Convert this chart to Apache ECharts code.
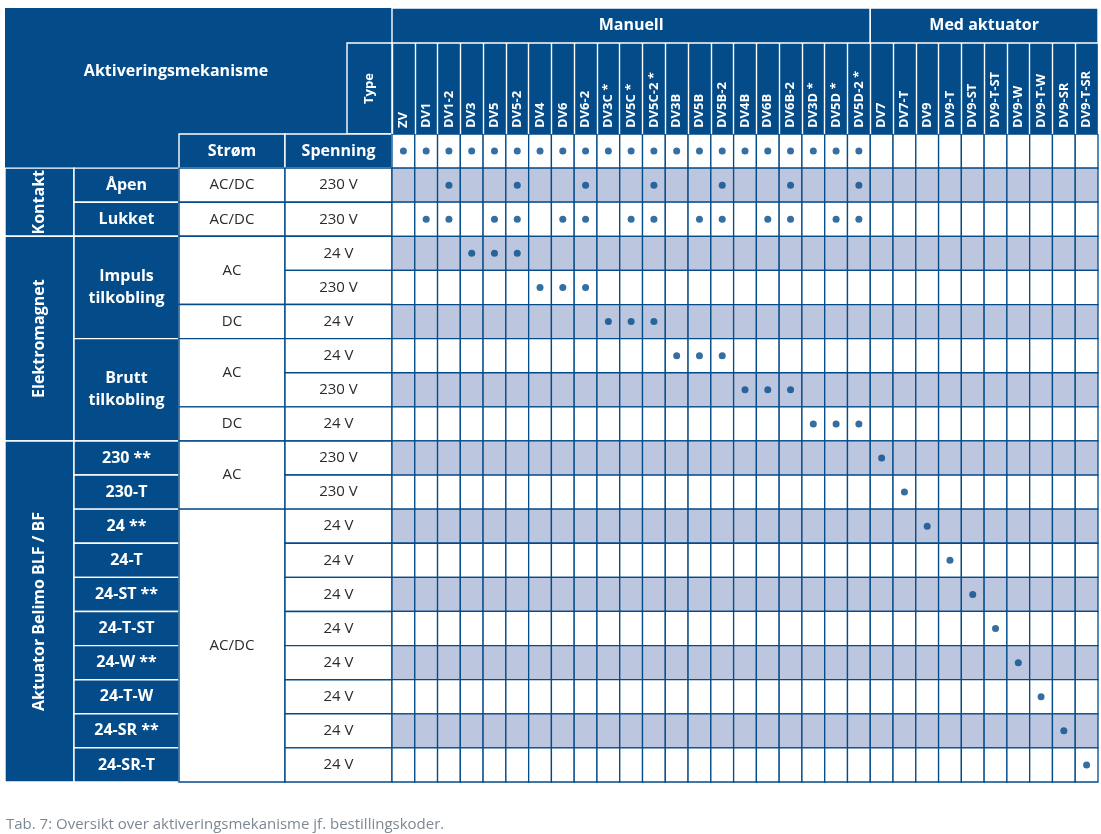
<!DOCTYPE html>
<html><head><meta charset="utf-8">
<script src="https://cdn.jsdelivr.net/npm/echarts@6/dist/echarts.min.js"></script>
<style>html,body{margin:0;padding:0;background:#fff}#c{width:1101px;height:834px}</style>
</head><body><div id="c"></div>
<script>
// ---------- data ----------
const codes = ['ZV','DV1','DV1-2','DV3','DV5','DV5-2','DV4','DV6','DV6-2','DV3C *','DV5C *','DV5C-2 *','DV3B','DV5B','DV5B-2','DV4B','DV6B','DV6B-2','DV3D *','DV5D *','DV5D-2 *','DV7','DV7-T','DV9','DV9-T','DV9-ST','DV9-T-ST','DV9-W','DV9-T-W','DV9-SR','DV9-T-SR'];
const groupNames = ['Manuell', 'Med aktuator'];
const groupSizes = [21, 10];
const mechanisms = ['Kontakt', 'Elektromagnet', 'Aktuator Belimo BLF / BF'];
const mechanismSpans = [2, 6, 10];
const variants = ['Åpen','Lukket','Impuls\ntilkobling','Brutt\ntilkobling','230 **','230-T','24 **','24-T','24-ST **','24-T-ST','24-W **','24-T-W','24-SR **','24-SR-T'];
const variantSpans = [1,1,3,3,1,1,1,1,1,1,1,1,1,1];
const currents = ['AC/DC','AC/DC','AC','DC','AC','DC','AC','AC/DC'];
const currentSpans = [1,1,2,1,2,1,2,8];
const voltages = ['230 V','230 V','24 V','230 V','24 V','24 V','230 V','24 V','230 V','230 V','24 V','24 V','24 V','24 V','24 V','24 V','24 V','24 V'];
// dots in the "Type" header row (code indices)
const typeRowDots = [0,1,2,3,4,5,6,7,8,9,10,11,12,13,14,15,16,17,18,19,20];
// dots in each body row (code indices)
const rowDots = [
  [2,5,8,11,14,17,20],
  [1,2,4,5,7,8,10,11,13,14,16,17,19,20],
  [3,4,5],
  [6,7,8],
  [9,10,11],
  [12,13,14],
  [15,16,17],
  [18,19,20],
  [21],[22],[23],[24],[25],[26],[27],[28],[29],[30]
];

// ---------- style / layout ----------
const DARK = '#034b89', SHADE = '#bcc6df', WHITE = '#ffffff', TXT = '#2b2b2b';
const FONT = "'Open Sans', sans-serif";
const ROWS = 1 + voltages.length;           // header dot row + body rows
const rowCats = Array.from({length: ROWS}, (_, i) => 'r' + i);
const LABEL_ROW_H = 91, GROUP_ROW_H = 35;
const COL_EDGES = [0, 69, 174, 280, 387];  // left block columns (px inside left grid)
const TYPE_X = 342;

function rowTop(api, r) {
  const bh = api.size([0, 1])[1];
  const top0 = api.coord([0, 0])[1] - bh / 2;
  if (r >= 0) return top0 + r * bh;
  if (r === -1) return top0 - LABEL_ROW_H;
  return top0 - LABEL_ROW_H - GROUP_ROW_H;
}

// ---------- left block specs ----------
const specs = [];
specs.push({x0: 0, x1: COL_EDGES[4], r0: -2, r1: 1, kind: 'bg'});
specs.push({x0: 0, x1: TYPE_X, r0: -2, r1: 0, kind: 'title', text: 'Aktiveringsmekanisme'});
specs.push({x0: TYPE_X, x1: COL_EDGES[4], r0: -1, r1: 0, kind: 'hdrRotSmall', text: 'Type'});
specs.push({x0: COL_EDGES[2], x1: COL_EDGES[3], r0: 0, r1: 1, kind: 'hdr', text: 'Strøm'});
specs.push({x0: COL_EDGES[3], x1: COL_EDGES[4], r0: 0, r1: 1, kind: 'hdr', text: 'Spenning'});
function addSpans(labels, spans, c0, c1, kind) {
  let r = 1;
  labels.forEach((t, i) => { specs.push({x0: c0, x1: c1, r0: r, r1: r + spans[i], kind, text: t}); r += spans[i]; });
}
addSpans(mechanisms, mechanismSpans, COL_EDGES[0], COL_EDGES[1], 'hdrRot');
addSpans(variants, variantSpans, COL_EDGES[1], COL_EDGES[2], 'hdr');
addSpans(currents, currentSpans, COL_EDGES[2], COL_EDGES[3], 'body');
addSpans(voltages, voltages.map(() => 1), COL_EDGES[3], COL_EDGES[4], 'body');

function renderLeft(params, api) {
  const s = specs[params.dataIndex];
  const xa = api.coord([s.x0, 0])[0], xb = api.coord([s.x1, 0])[0];
  const ya = rowTop(api, s.r0), yb = rowTop(api, s.r1);
  const cx = (xa + xb) / 2, cy = (ya + yb) / 2;
  const children = [];
  if (s.kind === 'bg') {
    children.push({type: 'rect', shape: {x: xa, y: ya, width: xb - xa, height: yb - ya}, style: {fill: DARK}});
  } else if (s.kind === 'title') {
    children.push({type: 'text', x: cx, y: cy, style: {text: s.text, fill: WHITE, font: `bold 16px ${FONT}`, align: 'center', verticalAlign: 'middle'}});
  } else {
    const dark = s.kind !== 'body';
    children.push({type: 'rect', shape: {x: xa, y: ya, width: xb - xa, height: yb - ya},
      style: {fill: dark ? DARK : WHITE, stroke: dark ? WHITE : DARK, lineWidth: 1.4}});
    const rot = s.kind === 'hdrRot' || s.kind === 'hdrRotSmall';
    const font = dark ? `bold ${s.kind === 'hdrRotSmall' ? 13 : 16}px ${FONT}` : `15px ${FONT}`;
    children.push({type: 'text', x: cx, y: cy, rotation: rot ? Math.PI / 2 : 0,
      style: {text: s.text, fill: dark ? WHITE : TXT, font, align: 'center', verticalAlign: 'middle', lineHeight: 22}});
  }
  return {type: 'group', children};
}

// ---------- main grid data ----------
const cellData = [];
for (let r = 0; r < ROWS; r++) for (let c = 0; c < codes.length; c++) cellData.push([c, r]);
const dotData = typeRowDots.map(c => [c, 0]);
rowDots.forEach((list, i) => list.forEach(c => dotData.push([c, i + 1])));
const groupData = [];
{ let s = 0; groupSizes.forEach(n => { groupData.push([s, s + n - 1]); s += n; }); }

function renderCell(params, api) {
  const c = api.value(0), r = api.value(1);
  const p = api.coord([c, r]);
  const sz = api.size([1, 1]);
  const fill = (r > 0 && r % 2 === 1) ? SHADE : WHITE;
  return {type: 'rect', shape: {x: p[0] - sz[0] / 2, y: p[1] - sz[1] / 2, width: sz[0], height: sz[1]},
    style: {fill, stroke: DARK, lineWidth: 1.3}};
}
function renderGroup(params, api) {
  const a = api.value(0), b = api.value(1);
  const bw = api.size([1, 0])[0];
  const xa = api.coord([a, 0])[0] - bw / 2, xb = api.coord([b, 0])[0] + bw / 2;
  const y0 = rowTop(api, -2), y1 = rowTop(api, -1), y2 = rowTop(api, 0);
  return {type: 'group', children: [
    {type: 'rect', shape: {x: xa, y: y1, width: xb - xa, height: y2 - y1}, style: {fill: DARK}},
    {type: 'rect', shape: {x: xa, y: y0, width: xb - xa, height: y1 - y0}, style: {fill: DARK, stroke: WHITE, lineWidth: 1.4}},
    {type: 'text', x: (xa + xb) / 2, y: (y0 + y1) / 2, style: {text: groupNames[params.dataIndex], fill: WHITE, font: `bold 16px ${FONT}`, align: 'center', verticalAlign: 'middle'}}
  ]};
}

const chart = echarts.init(document.getElementById('c'), null, {renderer: 'canvas'});
chart.setOption({
  animation: false,
  backgroundColor: '#fff',
  title: {text: 'Tab. 7: Oversikt over aktiveringsmekanisme jf. bestillingskoder.', left: 1, top: 812,
    textStyle: {fontSize: 15, fontWeight: 'normal', color: '#7d8893', fontFamily: FONT}},
  grid: [
    {left: 392, right: 3, top: 134, bottom: 52},
    {left: 5, width: 387, top: 134, bottom: 52}
  ],
  xAxis: [
    {type: 'category', gridIndex: 0, data: codes, position: 'top', z: 10,
      axisLine: {show: false},
      axisTick: {show: true, interval: 0, length: LABEL_ROW_H, lineStyle: {color: WHITE, width: 1.4}},
      axisLabel: {interval: 0, rotate: -90, color: WHITE, fontWeight: 'bold', fontSize: 13, fontFamily: FONT, margin: 6},
      splitLine: {show: false}},
    {type: 'value', gridIndex: 1, min: 0, max: COL_EDGES[4], show: false}
  ],
  yAxis: [
    {type: 'category', gridIndex: 0, data: rowCats, inverse: true, show: false},
    {type: 'category', gridIndex: 1, data: rowCats, inverse: true, show: false}
  ],
  series: [
    {type: 'custom', xAxisIndex: 1, yAxisIndex: 1, clip: false, renderItem: renderLeft,
      data: specs.map(s => [s.x0, s.r0]), z: 1, silent: true},
    {type: 'custom', xAxisIndex: 0, yAxisIndex: 0, clip: false, renderItem: renderGroup, data: groupData, z: 1, silent: true},
    {type: 'custom', xAxisIndex: 0, yAxisIndex: 0, clip: false, renderItem: renderCell, data: cellData, z: 2, silent: true},
    {type: 'scatter', xAxisIndex: 0, yAxisIndex: 0, data: dotData, symbol: 'circle', symbolSize: 7,
      itemStyle: {color: DARK}, z: 5, silent: true}
  ]
});
</script></body></html>
